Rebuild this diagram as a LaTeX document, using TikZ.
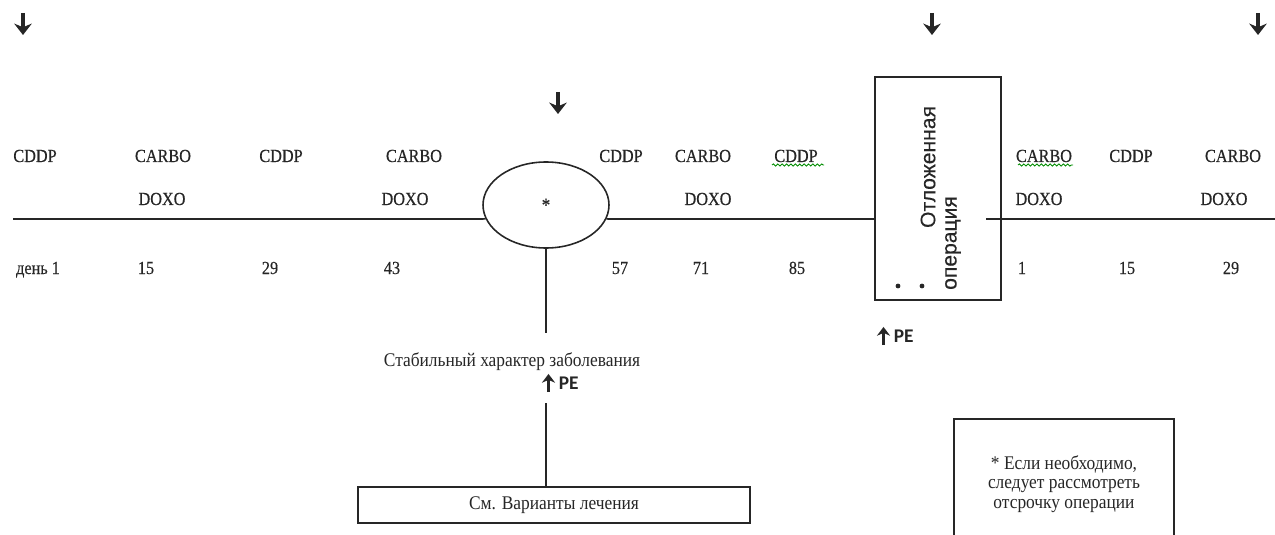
\documentclass[tikz,border=0pt]{standalone}
\usepackage{fontspec}
\setmainfont{Liberation Serif}
\newfontfamily\labfont[FakeStretch=0.88,FakeBold=0.4]{Liberation Serif}
\newfontfamily\lowfont[FakeStretch=0.9]{Liberation Serif}
\newfontfamily\rotfont[FakeBold=0.2]{Liberation Sans}
\newfontfamily\pefont{Carlito}
\usetikzlibrary{arrows.meta,shapes.geometric,decorations.pathmorphing}
\tikzset{
    lab/.style={font=\labfont\fontsize{10.5}{12}\selectfont, inner sep=0pt, anchor=base},
    low/.style={font=\lowfont\fontsize{11}{11}\selectfont, inner sep=0pt},
    rot/.style={font=\rotfont\fontsize{12}{14}\selectfont, inner sep=0pt, rotate=90},
    pelab/.style={font=\pefont\fontsize{11}{12}\selectfont\bfseries, inner sep=0pt, anchor=west},
    downarr/.style={line width=2.2pt, -{Stealth[length=6.5pt,width=10pt]}},
    uparr/.style={line width=1.8pt, -{Stealth[length=5pt,width=7.5pt]}},
    wavy/.style={green!55!black, line width=0.5pt, decorate, decoration={snake,amplitude=0.6pt,segment length=2.5pt}}
}
\begin{document}
\begin{tikzpicture}[x=0.2mm, y=-0.2mm, line width=0.9pt, color=black!85]
        \useasboundingbox(0,0)rectangle(1275,535);
        \foreach \x/\y in {23/13,558/92,932/13,1258/13}
            {
                \draw[downarr](\x,\y)--++(0,22);
            }
        \foreach \x/\t [count=\i] in {35/CDDP,163/CARBO,281/CDDP,414/CARBO,621/CDDP,703/CARBO,796/CDDP,1044/CARBO,1131/CDDP,1233/CARBO}
            {
                \node[lab] (drug\i) at (\x,162) {\t};
            }
        \foreach \x [count=\i] in {162,405,708,1039,1224}
            {
                \node[lab] (doxo\i) at (\x,205) {DOXO};
            }
        \foreach \x/\t [count=\i] in {38/день 1,146/15,270/29,392/43,620/57,701/71,797/85,1022/1,1127/15,1231/29}
            {
                \node[lab] (day\i) at (\x,274) {\t};
            }
        \draw[wavy](772,165)--(824,165);
        \draw[wavy](1018,165)--(1073,165);
        % main line
        \node[draw, ellipse, minimum width=25.2mm, minimum height=17.2mm, inner sep=0pt, font=\labfont\fontsize{11}{12}\selectfont] (oval) at (546,205) {*};
        \node[draw, minimum width=25.2mm, minimum height=44.6mm, inner sep=0pt] (delay) at (938,188.5) {};
        \node[rot] (delayA) at (928,167) {Отложенная};
        \node[rot] (delayB) at (953,243) {операция};
        \fill(898,286)circle(2.4);
        \fill(922,286)circle(2.4);
        \coordinate (lstart) at (13,219);
        \coordinate (rin) at (986,219);
        \coordinate (rend) at (1275,219);
        \draw(lstart)--(oval.193);
        \draw(oval.-13)--(delay.west |- lstart);
        \draw(rin)--(rend);
        % below the oval
        \coordinate (c1) at (546,333);
        \coordinate (c2) at (546,403);
        \node[low, anchor=base] (stable) at (512,366) {Стабильный характер заболевания};
        \node[pelab] (pe1) at (558,383) {PE};
        \node[pelab] (pe2) at (893,336) {PE};
        \draw[uparr]([xshift=-1.9mm,yshift=-0.4mm]pe1.south west)--([xshift=-1.9mm,yshift=0.4mm]pe1.north west);
        \draw[uparr]([xshift=-1.9mm,yshift=-0.4mm]pe2.south west)--([xshift=-1.9mm,yshift=0.4mm]pe2.north west);
        \node[draw, low, minimum width=78.4mm, minimum height=7.2mm] (opts) at (554,505) {См. Варианты лечения};
        \draw(oval.south)--(c1);
        \draw(c2)--(c2 |- opts.north);
        \node[draw, low, align=center, minimum width=44mm, minimum height=26mm] (note) at (1064,484) {* Если необходимо,\\ следует рассмотреть\\ отсрочку операции};
    \end{tikzpicture}
\end{document}
